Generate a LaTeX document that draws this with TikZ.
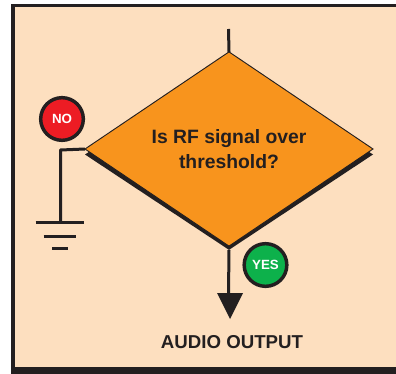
\documentclass[tikz,border=0pt]{standalone}
\usepackage{fontspec}
\setmainfont{Liberation Sans}
\usetikzlibrary{shapes.geometric}
\definecolor{ink}{HTML}{231F20}
\definecolor{paper}{HTML}{FDDFBF}
\definecolor{amber}{HTML}{F8941D}
\definecolor{nored}{HTML}{ED1C24}
\definecolor{yesgreen}{HTML}{0DB14B}
\tikzset{
  x=0.75pt,y=-0.75pt,
  wire/.style={draw=ink,line width=2.25pt},
  decision/.style={diamond,inner sep=0pt,outer sep=0pt,minimum width=216pt,minimum height=143pt,font=\bfseries\fontsize{14.5}{19}\selectfont,text=ink,align=center},
  badge/.style={circle,draw=ink,line width=2.6pt,minimum size=32pt,inner sep=0pt,text=white,font=\bfseries},
}
\begin{document}
\begin{tikzpicture}
\useasboundingbox (0,0) rectangle (396,374);
\fill[paper] (11,4) rectangle (396,374);
\fill[ink] (11,4) rectangle (14.5,374);
\fill[ink] (11,4) rectangle (396,7.5);
\fill[ink] (11,367) rectangle (396,374);
% decision
\node[decision,fill=ink] (shadow) at (229,154.5) {};
\node[decision,fill=amber,draw=ink,line width=0.7pt] (dec) at (229,149) {Is RF signal over\\threshold?};
% top lead
\coordinate (top) at (228.5,29);
\draw[wire] (top) -- (dec.north);
% no branch
\coordinate (corner) at (60.5,150);
\coordinate (gnd) at (60.5,222);
\draw[wire,line join=round] (dec.west) -- (corner) -- (gnd);
\coordinate (g1a) at (35.5,222); \coordinate (g1b) at (83.5,222);
\coordinate (g2a) at (43.5,236); \coordinate (g2b) at (76,236);
\coordinate (g3a) at (52,248); \coordinate (g3b) at (68,248);
\draw[wire] (g1a) -- (g1b);
\draw[wire] (g2a) -- (g2b);
\draw[wire] (g3a) -- (g3b);
% yes branch
\coordinate (tipbase) at (228.5,294);
\draw[wire] (shadow.south) -- (tipbase);
\node[fill=ink,isosceles triangle,isosceles triangle apex angle=53,shape border rotate=-90,inner sep=0pt,minimum width=0pt,minimum height=0pt] at (230,0) {};
\fill[ink] (217,293) -- (243,293) -- (230,319) -- cycle;
\node[text=ink,font=\bfseries\fontsize{14}{16}\selectfont] (out) at (232,342) {AUDIO OUTPUT};
\node[badge,fill=nored] (no) at (62,119) {NO};
\node[badge,fill=yesgreen] (yes) at (265.5,265) {YES};
\end{tikzpicture}
\end{document}
